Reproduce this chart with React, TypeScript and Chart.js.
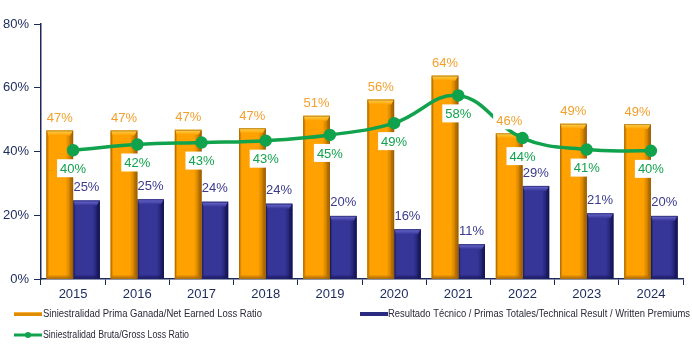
import React, { useEffect, useRef } from "react";
import { Chart, registerables } from "chart.js";
Chart.register(...registerables);

const years = ["2015", "2016", "2017", "2018", "2019", "2020", "2021", "2022", "2023", "2024"];
const netEarnedLossRatio = [46.6, 46.6, 46.8, 47.3, 51.2, 56.3, 63.8, 45.7, 48.7, 48.6];
const technicalResult = [24.6, 25.0, 24.2, 23.6, 19.8, 15.6, 10.9, 29.2, 20.6, 19.8];
const grossLossRatio = [40.4, 42.2, 42.8, 43.4, 45.2, 48.9, 57.6, 44.2, 40.6, 40.2];
const yTicks = [0, 20, 40, 60, 80];

const legendNet = "Siniestralidad Prima Ganada/Net Earned Loss Ratio";
const legendTech = "Resultado Técnico / Primas Totales/Technical Result / Written Premiums";
const legendGross = "Siniestralidad Bruta/Gross Loss Ratio";

const FONT = "'Liberation Sans', Arial, sans-serif";
const NAVY = "#1C2A5A";
const ORANGE = "#FFA500";
const BLUE = "#333399";
const GREEN = "#10A24C";

const palettes: Record<number, { dark: string; main: string; light: string; edge: string; outline: string }> = {
  0: { dark: "#A86800", main: "#FFA100", light: "#FFD34F", edge: "#D68800", outline: "#8A5A10" },
  1: { dark: "#17175A", main: "#363699", light: "#6C6CD2", edge: "#262677", outline: "#14144A" },
};

const bevelPlugin = {
  id: "bevel",
  afterDatasetDraw(chart: any, args: any) {
    const ds = chart.data.datasets[args.index];
    if (ds.type !== "bar") return;
    const pal = palettes[args.index];
    const ctx = chart.ctx as CanvasRenderingContext2D;
    ctx.save();
    args.meta.data.forEach((el: any) => {
      const { x, y, base, width } = el.getProps(["x", "y", "base", "width"], true);
      const x0 = x - width / 2;
      const x1 = x + width / 2;
      const b = 5;
      const g = ctx.createLinearGradient(x0, 0, x1, 0);
      g.addColorStop(0, pal.edge);
      g.addColorStop(0.1, pal.main);
      g.addColorStop(0.72, pal.main);
      g.addColorStop(1, pal.dark);
      ctx.fillStyle = g;
      ctx.fillRect(x0, y, width, base - y);
      // right bevel
      ctx.fillStyle = pal.dark;
      ctx.globalAlpha = 0.6;
      ctx.beginPath();
      ctx.moveTo(x1, y);
      ctx.lineTo(x1, base);
      ctx.lineTo(x1 - 3, base - 3);
      ctx.lineTo(x1 - 3, y + b);
      ctx.closePath();
      ctx.fill();
      // bottom bevel
      ctx.globalAlpha = 0.45;
      ctx.beginPath();
      ctx.moveTo(x0, base);
      ctx.lineTo(x1, base);
      ctx.lineTo(x1 - 3, base - 3);
      ctx.lineTo(x0 + 2, base - 3);
      ctx.closePath();
      ctx.fill();
      // left bevel
      ctx.fillStyle = pal.edge;
      ctx.globalAlpha = 0.7;
      ctx.beginPath();
      ctx.moveTo(x0, y);
      ctx.lineTo(x0 + 2, y + b);
      ctx.lineTo(x0 + 2, base - 3);
      ctx.lineTo(x0, base);
      ctx.closePath();
      ctx.fill();
      // top bevel
      ctx.globalAlpha = 1;
      const tg = ctx.createLinearGradient(0, y, 0, y + b);
      tg.addColorStop(0, pal.light);
      tg.addColorStop(1, pal.main);
      ctx.fillStyle = tg;
      ctx.beginPath();
      ctx.moveTo(x0, y);
      ctx.lineTo(x1, y);
      ctx.lineTo(x1 - 3, y + b);
      ctx.lineTo(x0 + 2, y + b);
      ctx.closePath();
      ctx.fill();
      // outline
      ctx.strokeStyle = pal.outline;
      ctx.globalAlpha = 0.55;
      ctx.lineWidth = 1;
      ctx.strokeRect(x0 + 0.5, y + 0.5, width - 1, base - y - 1);
      ctx.globalAlpha = 1;
    });
    ctx.restore();
  },
};

const labelPlugin = {
  id: "valueLabels",
  afterDatasetsDraw(chart: any) {
    const ctx = chart.ctx as CanvasRenderingContext2D;
    ctx.save();
    ctx.font = `13px ${FONT}`;
    ctx.textAlign = "center";
    ctx.textBaseline = "middle";
    const drawLabel = (text: string, x: number, y: number, color: string, bg: boolean) => {
      if (bg) {
        const w = ctx.measureText(text).width + 6;
        ctx.fillStyle = "#FFFFFF";
        ctx.fillRect(x - w / 2, y - 9, w, 18);
      }
      ctx.fillStyle = color;
      ctx.fillText(text, x, y + 1);
    };
    chart.getDatasetMeta(1).data.forEach((el: any, i: number) => {
      drawLabel(Math.round(technicalResult[i]) + "%", el.x, el.y - 14, "#3A3A8E", false);
    });
    chart.getDatasetMeta(2).data.forEach((el: any, i: number) => {
      drawLabel(Math.round(grossLossRatio[i]) + "%", el.x, el.y + 18, GREEN, true);
    });
    chart.getDatasetMeta(0).data.forEach((el: any, i: number) => {
      drawLabel(Math.round(netEarnedLossRatio[i]) + "%", el.x, el.y - 13, "#F2A02C", true);
    });
    ctx.restore();
  },
};

const legendPlugin = {
  id: "customLegend",
  afterDraw(chart: any) {
    const ctx = chart.ctx as CanvasRenderingContext2D;
    ctx.save();
    ctx.font = `10px ${FONT}`;
    ctx.textBaseline = "middle";
    ctx.textAlign = "left";
    ctx.fillStyle = "#E08C00";
    ctx.fillRect(14, 312, 28, 4);
    ctx.fillStyle = "#F5B040";
    ctx.fillRect(14, 312, 28, 1);
    ctx.fillStyle = "#2A2A3A";
    ctx.fillText(legendNet, 43, 314, 219);
    ctx.fillStyle = "#2A2A80";
    ctx.fillRect(360, 312, 28, 4);
    ctx.fillStyle = "#2A2A3A";
    ctx.fillText(legendTech, 388, 314, 302);
    ctx.strokeStyle = GREEN;
    ctx.lineWidth = 3;
    ctx.beginPath();
    ctx.moveTo(14, 335);
    ctx.lineTo(42, 335);
    ctx.stroke();
    ctx.fillStyle = GREEN;
    ctx.beginPath();
    ctx.arc(28, 335, 3, 0, Math.PI * 2);
    ctx.fill();
    ctx.fillStyle = "#2A2A3A";
    ctx.fillText(legendGross, 43, 335, 146);
    ctx.restore();
  },
};

export default function App() {
  const ref = useRef<HTMLCanvasElement | null>(null);
  useEffect(() => {
    if (!ref.current) return;
    const chart = new Chart(ref.current, {
      type: "bar",
      data: {
        labels: years,
        datasets: [
          {
            type: "bar",
            label: legendNet,
            data: netEarnedLossRatio,
            backgroundColor: ORANGE,
            barPercentage: 1,
            categoryPercentage: 0.83,
            order: 1,
          },
          {
            type: "bar",
            label: legendTech,
            data: technicalResult,
            backgroundColor: BLUE,
            barPercentage: 1,
            categoryPercentage: 0.83,
            order: 1,
          },
          {
            type: "line",
            label: legendGross,
            data: grossLossRatio,
            borderColor: GREEN,
            backgroundColor: GREEN,
            borderWidth: 3.5,
            pointRadius: 4.5,
            pointBackgroundColor: GREEN,
            pointBorderColor: GREEN,
            tension: 0.4,
            order: 0,
          } as any,
        ],
      },
      options: {
        animation: false,
        responsive: false,
        maintainAspectRatio: false,
        layout: { padding: { top: 24, left: 0, right: 9, bottom: 36 } },
        plugins: { legend: { display: false }, tooltip: { enabled: false } },
        scales: {
          x: {
            offset: true,
            grid: { display: true, offset: true, drawOnChartArea: false, drawTicks: true, tickLength: 6, color: NAVY },
            border: { display: true, color: NAVY, width: 1.5 },
            ticks: { color: NAVY, font: { family: FONT, size: 13 }, padding: 2, maxRotation: 0 },
            afterFit: (s: any) => {
              s.height = 30;
            },
          },
          y: {
            min: 0,
            max: 80,
            afterBuildTicks: (s: any) => {
              s.ticks = yTicks.map((v) => ({ value: v }));
            },
            grid: { display: true, drawOnChartArea: false, drawTicks: true, tickLength: 7, color: NAVY },
            border: { display: true, color: NAVY, width: 1.5 },
            ticks: {
              color: NAVY,
              font: { family: FONT, size: 13 },
              padding: 5,
              callback: (v: any) => v + "%",
            },
            afterFit: (s: any) => {
              s.width = 41;
            },
          },
        },
      },
      plugins: [bevelPlugin, labelPlugin, legendPlugin],
    } as any);
    return () => chart.destroy();
  }, []);
  return (
    <div style={{ position: "absolute", left: 0, top: 0, width: 692, height: 345, background: "#fff" }}>
      <canvas ref={ref} width={692} height={345} style={{ display: "block", width: 692, height: 345 }} />
    </div>
  );
}
